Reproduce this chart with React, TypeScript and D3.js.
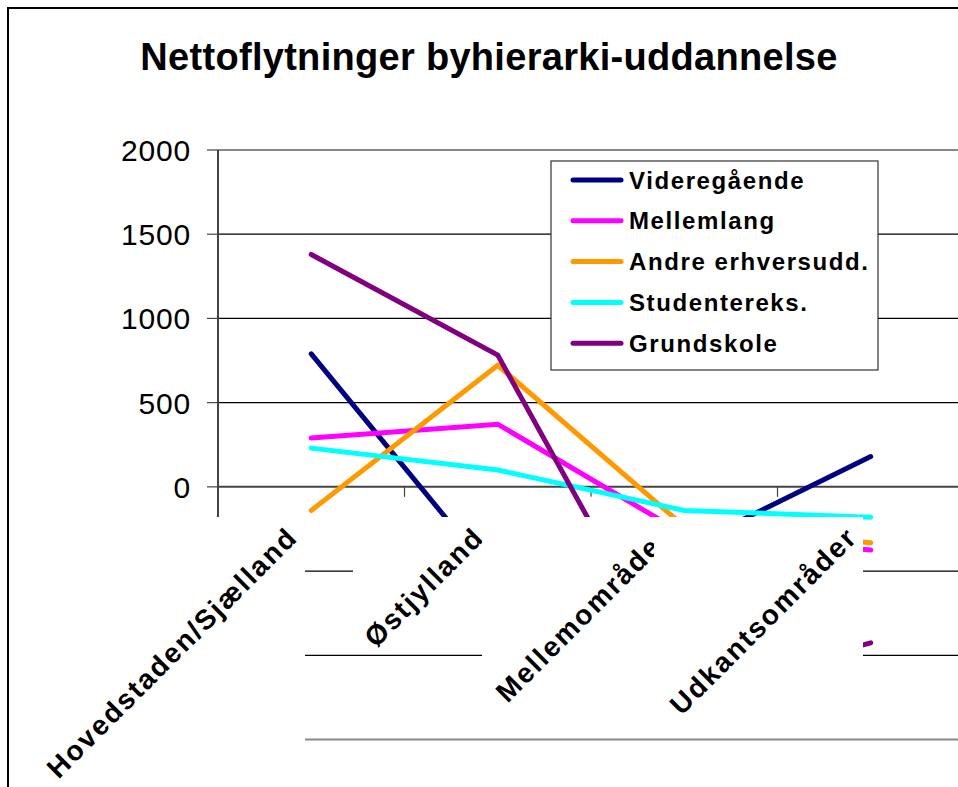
import React from "react";
import * as d3 from "d3";

const title = "Nettoflytninger byhierarki-uddannelse";
const categories = ["Hovedstaden/Sjælland", "Østjylland", "Mellemområder", "Udkantsområder"];
const seriesNames = ["Videregående", "Mellemlang", "Andre erhversudd.", "Studentereks.", "Grundskole"];
const videregaaende = [790, -560, -365, 180];
const mellemlang = [290, 372, -280, -375];
const andreErhversudd = [-140, 722, -235, -332];
const studentereks = [230, 100, -140, -180];
const grundskole = [1380, 782, -1220, -926];
const yTicks = [2000, 1500, 1000, 500, 0];
const gridValues = [1500, 1000, 500, -500, -1000];
const colors = ["#000080", "#FF00FF", "#FF9900", "#00FFFF", "#800080"];

const seriesValues = [videregaaende, mellemlang, andreErhversudd, studentereks, grundskole];

// layout
const plotLeft = 218;
const plotRight = 964;
const plotTop = 150;
const plotBottom = 739.5;
const yMin = -1500;
const yMax = 2000;
// white label boxes (Excel style): [left, right, bottom], all start at boxTop
const boxTop = 517;
const labelBoxes = [
  [10, 305, 786],
  [353, 490, 652],
  [482, 672, 712],
  [654, 863, 728],
];
const FONT = "'Liberation Sans', Arial, Helvetica, sans-serif";

export default function App() {
  const x = d3.scaleBand<string>().domain(categories).range([plotLeft, plotRight]);
  const cx = (c: string) => (x(c) as number) + x.bandwidth() / 2;
  const y = d3.scaleLinear().domain([yMin, yMax]).range([plotBottom, plotTop]);
  const line = d3
    .line<[string, number]>()
    .x((d) => cx(d[0]))
    .y((d) => y(d[1]));

  const boundaries = categories.map((c) => x(c) as number).concat([plotRight]);

  return (
    <svg
      width={958}
      height={787}
      style={{ position: "absolute", left: 0, top: 0, background: "#fff" }}
      fontFamily={FONT}
    >
      <rect x={0} y={0} width={958} height={787} fill="#fff" />
      {/* title */}
      <text
        x={489}
        y={70}
        textAnchor="middle"
        fontSize={38}
        fontWeight="bold"
        letterSpacing={0.3}
        fill="#000"
      >
        {title}
      </text>

      {/* gridlines */}
      {gridValues.map((v) => (
        <line key={v} x1={plotLeft} x2={plotRight} y1={y(v)} y2={y(v)} stroke="#000" strokeWidth={1.2} />
      ))}
      <line x1={plotLeft} x2={plotRight} y1={y(yMax)} y2={y(yMax)} stroke="#888" strokeWidth={2} />
      <line x1={plotLeft} x2={plotRight} y1={y(yMin)} y2={y(yMin)} stroke="#888" strokeWidth={2} />

      {/* y axis */}
      <line x1={plotLeft} x2={plotLeft} y1={plotTop} y2={plotBottom} stroke="#444" strokeWidth={2} />
      {d3.range(yMin, yMax + 1, 500).map((v) => (
        <line key={v} x1={plotLeft - 11} x2={plotLeft} y1={y(v)} y2={y(v)} stroke="#444" strokeWidth={1.2} />
      ))}
      {yTicks.map((v) => (
        <text key={v} x={191} y={y(v) + 11} textAnchor="end" fontSize={30} letterSpacing={0.8} fill="#000">
          {v}
        </text>
      ))}

      {/* category axis at zero */}
      <line x1={plotLeft} x2={plotRight} y1={y(0)} y2={y(0)} stroke="#444" strokeWidth={2} />
      {boundaries.map((b, i) => (
        <line key={i} x1={b} x2={b} y1={y(0)} y2={y(0) + 10} stroke="#444" strokeWidth={1.2} />
      ))}

      {/* series lines */}
      {seriesValues.map((vals, i) => (
        <path
          key={seriesNames[i]}
          d={line(categories.map((c, j) => [c, vals[j]] as [string, number])) || ""}
          fill="none"
          stroke={colors[i]}
          strokeWidth={5}
          strokeLinecap="round"
          strokeLinejoin="miter"
        />
      ))}

      {/* category labels with white boxes */}
      {categories.map((c, i) => {
        const [l, r, b] = labelBoxes[i];
        const ax = cx(c) - 12;
        const ay = 539;
        return (
          <g key={c}>
            <rect x={l} y={boxTop} width={r - l} height={b - boxTop} fill="#fff" />
            <text
              transform={`translate(${ax},${ay}) rotate(-45)`}
              textAnchor="end"
              fontSize={28}
              fontWeight="bold"
              letterSpacing={2}
              fill="#000"
            >
              {c}
            </text>
          </g>
        );
      })}

      {/* legend */}
      <rect x={551} y={161} width={327} height={209} fill="#fff" stroke="#333" strokeWidth={1.2} />
      {seriesNames.map((s, i) => {
        const ly = 180 + i * 40.8;
        return (
          <g key={s}>
            <line x1={573} x2={621} y1={ly} y2={ly} stroke={colors[i]} strokeWidth={5} strokeLinecap="round" />
            <text x={629} y={ly + 8.5} fontSize={24} fontWeight="bold" letterSpacing={1.6} fill="#000">
              {s}
            </text>
          </g>
        );
      })}

      {/* chart border */}
      <rect x={8} y={8} width={1200} height={1200} fill="none" stroke="#000" strokeWidth={2} />
    </svg>
  );
}
